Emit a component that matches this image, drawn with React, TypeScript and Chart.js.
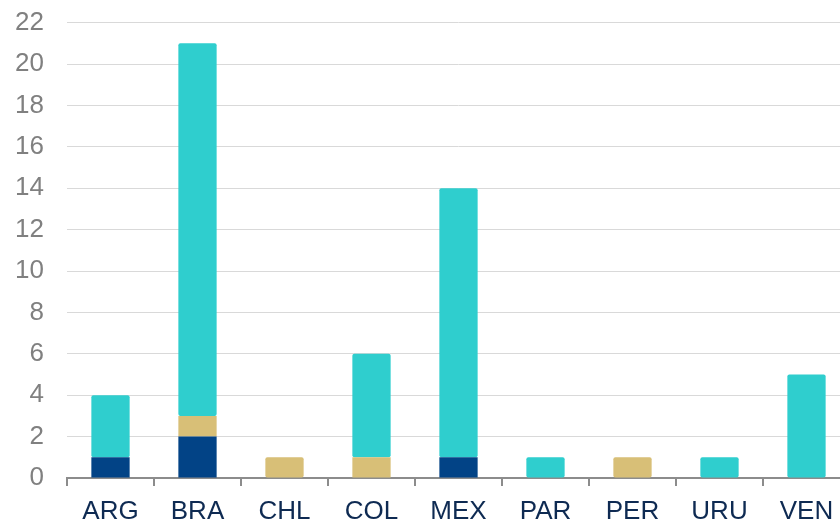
import React, { useEffect, useRef } from "react";
import { Chart, registerables } from "chart.js";

Chart.register(...registerables);

const categories = ["ARG", "BRA", "CHL", "COL", "MEX", "PAR", "PER", "URU", "VEN"];
const navyValues = [1, 2, 0, 0, 1, 0, 0, 0, 0];
const tanValues = [0, 1, 1, 1, 0, 0, 1, 0, 0];
const cyanValues = [3, 18, 0, 5, 13, 1, 0, 1, 5];
const yTickMax = 22;
const yTickStep = 2;

export default function App() {
  const ref = useRef<HTMLCanvasElement | null>(null);

  useEffect(() => {
    if (!ref.current) return;
    const font = "'Liberation Sans', Arial, sans-serif";
    const mk = (label: string, data: number[], color: string) => ({
      label,
      data: data.map((v) => (v === 0 ? null : v)),
      backgroundColor: color,
      borderRadius: 2,
      borderSkipped: false as const,
      barPercentage: 0.44,
      categoryPercentage: 1,
    });
    const chart = new Chart(ref.current, {
      type: "bar",
      data: {
        labels: categories,
        datasets: [
          mk("A", navyValues, "#024386"),
          mk("B", tanValues, "#D8BF77"),
          mk("C", cyanValues, "#2FCECE"),
        ],
      },
      options: {
        animation: false,
        responsive: false,
        maintainAspectRatio: false,
        layout: { padding: { top: 6, right: 2, left: 0, bottom: 0 } },
        plugins: { legend: { display: false }, tooltip: { enabled: false } },
        scales: {
          x: {
            stacked: true,
            afterFit: (s: any) => {
              s.height = 41;
            },
            grid: {
              display: true,
              drawOnChartArea: false,
              drawTicks: true,
              tickLength: 8,
              color: "#8C8C8C",
              lineWidth: 2,
              offset: true,
            },
            border: { display: true, color: "#8C8C8C", width: 2 },
            ticks: {
              color: "#0E2A52",
              font: { family: font, size: 26 },
              padding: 10,
              maxRotation: 0,
            },
          },
          y: {
            stacked: true,
            min: 0,
            max: yTickMax,
            afterFit: (s: any) => {
              s.width = 67;
            },
            grid: { color: "#D9D9D9", lineWidth: 1, drawTicks: false },
            border: { display: false },
            ticks: {
              stepSize: yTickStep,
              color: "#808080",
              font: { family: font, size: 26 },
              padding: 23,
            },
          },
        },
      },
    });
    return () => chart.destroy();
  }, []);

  return (
    <div style={{ position: "fixed", left: 0, top: 0, width: 840, height: 519, overflow: "hidden", background: "#fff" }}>
      <canvas ref={ref} width={852} height={535} style={{ display: "block", width: 852, height: 535, marginTop: -16 }} />
    </div>
  );
}
